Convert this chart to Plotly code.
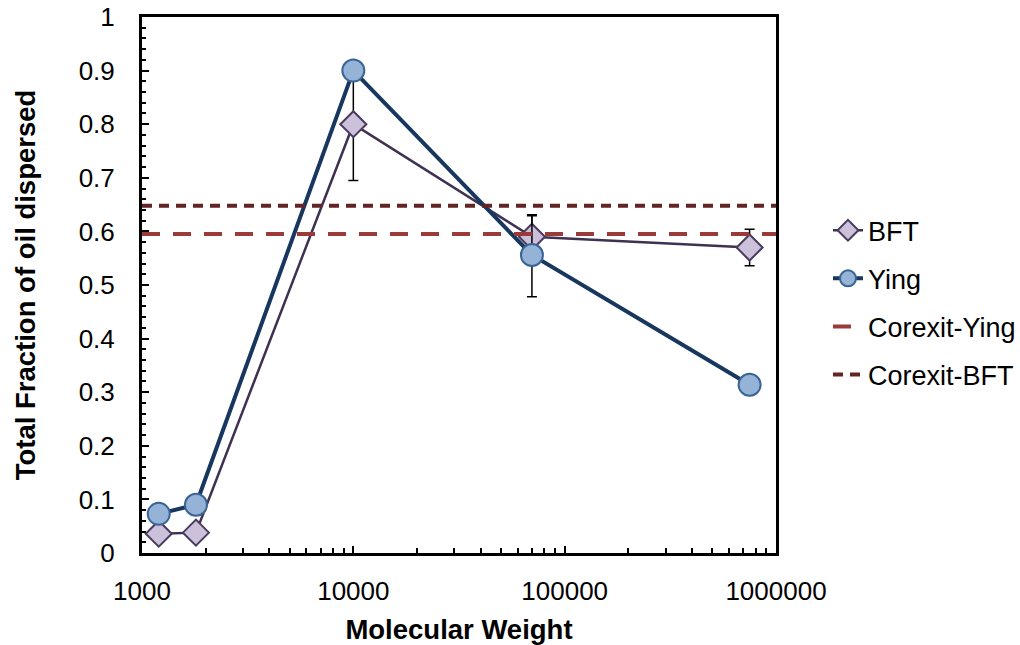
import plotly.graph_objects as go

# Molecular weight of each dispersant sample
mol_weight = [1200, 1800, 10000, 70000, 750000]

# Total fraction of oil dispersed, BFT method
bft_values = [0.036, 0.038, 0.80, 0.590, 0.570]
bft_err_plus = [0, 0, 0.10, 0.039, 0.034]
bft_err_minus = [0, 0, 0.105, 0.039, 0.034]

# Total fraction of oil dispersed, Ying method
ying_values = [0.073, 0.090, 0.90, 0.556, 0.314]
ying_err_plus = [0, 0, 0, 0.075, 0]
ying_err_minus = [0, 0, 0, 0.078, 0]

# Corexit reference levels
corexit_ying = 0.595
corexit_bft = 0.648
x_span = [1000, 1000000]

y_ticks = [0, 0.1, 0.2, 0.3, 0.4, 0.5, 0.6, 0.7, 0.8, 0.9, 1]
x_ticks = [1000, 10000, 100000, 1000000]
x_tick_text = ["1000", "10000", "100000", "1000000"]

FONT = "Liberation Sans, Arial, sans-serif"

fig = go.Figure()

fig.add_trace(go.Scatter(
    x=mol_weight, y=bft_values, name="BFT", mode="lines+markers",
    legendgroup="a",
    line=dict(color="#3F3151", width=2.5),
    marker=dict(symbol="diamond", size=20, color="#CCC1DA",
                line=dict(color="#4A3A5E", width=2)),
    error_y=dict(type="data", symmetric=False, array=bft_err_plus,
                 arrayminus=bft_err_minus, color="black", thickness=1.5, width=5),
))

fig.add_trace(go.Scatter(
    x=mol_weight, y=ying_values, name="Ying", mode="lines+markers",
    legendgroup="b",
    line=dict(color="#17375E", width=4),
    marker=dict(symbol="circle", size=22, color="#95B3D7",
                line=dict(color="#3A6494", width=2)),
    error_y=dict(type="data", symmetric=False, array=ying_err_plus,
                 arrayminus=ying_err_minus, color="black", thickness=1.5, width=5),
))

fig.add_trace(go.Scatter(
    x=x_span, y=[corexit_ying] * 2, name="Corexit-Ying", mode="lines",
    legendgroup="c",
    line=dict(color="#9A3B39", width=4, dash="18px,13px"),
))

fig.add_trace(go.Scatter(
    x=x_span, y=[corexit_bft] * 2, name="Corexit-BFT", mode="lines",
    legendgroup="d",
    line=dict(color="#632523", width=4, dash="10px,7px"),
))

fig.update_layout(
    width=1020, height=645,
    margin=dict(l=142, r=244, t=17, b=92, autoexpand=False),
    paper_bgcolor="white", plot_bgcolor="white",
    font=dict(family=FONT, size=26, color="black"),
    showlegend=True,
    legend=dict(x=1.082, y=0.467, xanchor="left", yanchor="middle",
                font=dict(size=27), tracegroupgap=10,
                bgcolor="rgba(0,0,0,0)"),
)

fig.update_xaxes(
    type="log", range=[3, 6], automargin=False,
    tickvals=x_ticks, ticktext=x_tick_text,
    ticks="inside", ticklen=7, tickwidth=2, tickcolor="black",
    minor=dict(ticks="inside", ticklen=5, tickwidth=1.5, tickcolor="black",
               dtick="D1", showgrid=False),
    showline=True, linecolor="black", linewidth=3, mirror=True,
    showgrid=False, zeroline=False,
    ticklabelstandoff=13,
    title=dict(text="<b>Molecular Weight</b>", font=dict(size=27.5), standoff=19),
)

fig.update_yaxes(
    range=[0, 1], tickvals=y_ticks, automargin=False,
    ticks="inside", ticklen=7, tickwidth=2, tickcolor="black",
    minor=dict(ticks="inside", ticklen=4, tickwidth=1.5, tickcolor="black",
               dtick=0.02, showgrid=False),
    showline=True, linecolor="black", linewidth=3, mirror=True,
    showgrid=False, zeroline=False,
    ticklabelstandoff=19,
    title=dict(text="<b>Total Fraction of oil dispersed</b>", font=dict(size=27.5),
               standoff=36),
)

fig.write_html("out.html")
